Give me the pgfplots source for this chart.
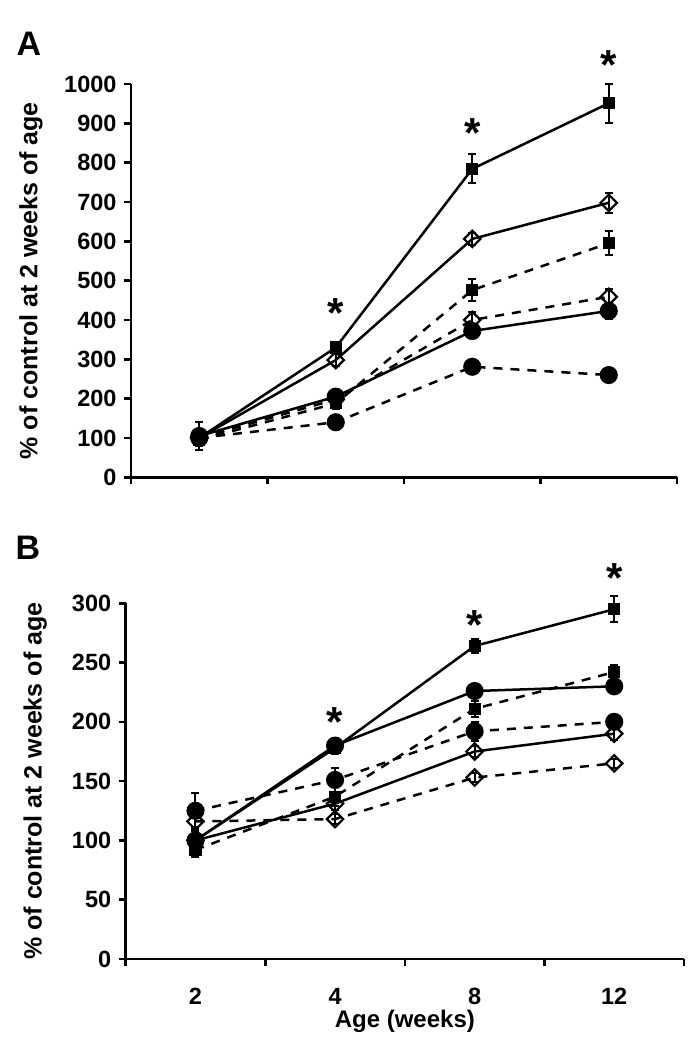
\documentclass[border=0pt]{standalone}
\usepackage{pgfplots}
\pgfplotsset{compat=1.18}
\usepackage{fontspec}
\setmainfont{Liberation Sans}

% data: x (category index), y, error
\pgfplotstableread{
x y e
0 100 15
1 330 15
2 784 37
3 951 50
}\AsolStar
\pgfplotstableread{
x y e
0 100 10
1 298 15
2 606 15
3 698 25
}\AsolDia
\pgfplotstableread{
x y e
0 95 15
1 188 15
2 476 27
3 595 30
}\AdashStar
\pgfplotstableread{
x y e
0 100 10
1 198 15
2 400 20
3 459 20
}\AdashDia
\pgfplotstableread{
x y e
0 105 35
1 205 15
2 372 15
3 423 20
}\AsolCirc
\pgfplotstableread{
x y e
0 100 10
1 140 10
2 281 10
3 260 10
}\AdashCirc

\pgfplotstableread{
x y e
0 100 8
1 178 5
2 264 6
3 295 11
}\BsolStar
\pgfplotstableread{
x y e
0 100 5
1 180 4
2 226 5
3 230 6
}\BsolCirc
\pgfplotstableread{
x y e
0 92 6
1 137 8
2 211 7
3 242 6
}\BdashStar
\pgfplotstableread{
x y e
0 125 15
1 151 10
2 192 8
3 200 6
}\BdashCirc
\pgfplotstableread{
x y e
0 100 5
1 131 5
2 175 5
3 190 5
}\BsolDia
\pgfplotstableread{
x y e
0 116 5
1 118 4
2 153 4
3 165 4
}\BdashDia

\tikzset{sigstar/.style={font=\fontsize{42bp}{42bp}\selectfont\bfseries, anchor=center}}
\pgfplotsset{
  panel/.style={
    scale only axis,
    axis x line=bottom, axis y line=left,
    axis line style={-, line width=2.8bp},
    xmin=-0.5, xmax=3.5, ymin=0,
    xtick={-0.5,0.5,1.5,2.5,3.5}, xticklabels={},
    tick align=outside, major tick length=7bp,
    tick style={line width=2.6bp, black},
    /pgf/number format/assume math mode=true,
    /pgf/number format/1000 sep={},
    yticklabel style={font=\fontsize{23.5bp}{25bp}\selectfont\bfseries, xshift=-4bp},
    ylabel style={font=\fontsize{25bp}{28bp}\selectfont\bfseries, anchor=center},
    clip=false,
    every axis plot/.append style={line width=2.5bp, black},
  },
  solidln/.style={solid},
  dashln/.style={dash pattern=on 9bp off 8bp},
  ebar/.style={error bars/.cd, y dir=both, y explicit,
    error bar style={line width=2bp, solid},
    error mark options={rotate=90, mark size=4bp, line width=2bp}},
  mstar/.style={mark=square*, mark options={solid, fill=black, mark size=4.8bp}},
  mdia/.style={mark=square, mark options={solid, fill=white, rotate=45, mark size=5.8bp, line width=2.2bp}},
  mcirc/.style={mark=*, mark options={solid, fill=black, mark size=7.8bp}},
}

\begin{document}
\begin{tikzpicture}
\useasboundingbox (0,0) rectangle (699bp,1050bp);
\node[font=\fontsize{34bp}{34bp}\selectfont\bfseries] at (29bp,1006bp) {A};
\node[font=\fontsize{34bp}{34bp}\selectfont\bfseries] at (28bp,502bp) {B};

\begin{axis}[panel,
  at={(131bp,572.7bp)}, anchor=south west,
  width=546bp, height=393.3bp,
  ymax=1000, ytick={0,100,...,1000},
  ylabel={\% of control at 2 weeks of age},
  ylabel style={at={(axis description cs:-0.183,0.5)}},
]
\addplot[dashln, mdia, ebar] table[x=x, y=y, y error=e] {\AdashDia};
\addplot[dashln, mstar, ebar] table[x=x, y=y, y error=e] {\AdashStar};
\addplot[dashln, mcirc, ebar] table[x=x, y=y, y error=e] {\AdashCirc};
\addplot[solidln, mcirc, ebar] table[x=x, y=y, y error=e] {\AsolCirc};
\addplot[solidln, mdia, ebar] table[x=x, y=y, y error=e] {\AsolDia};
\addplot[solidln, mstar, ebar] table[x=x, y=y, y error=e] {\AsolStar};
\node[sigstar] at (axis cs:1,418) {*};
\node[sigstar] at (axis cs:2,875) {*};
\node[sigstar] at (axis cs:3,1048) {*};
\end{axis}

\begin{axis}[panel,
  at={(125.7bp,91bp)}, anchor=south west,
  width=558.3bp, height=355.7bp,
  ymax=300, ytick={0,50,...,300},
  ylabel={\% of control at 2 weeks of age},
  ylabel style={at={(axis description cs:-0.162,0.5)}},
  extra x ticks={0,1,2,3}, extra x tick labels={2,4,8,12},
  extra x tick style={major tick length=0bp,
    tick label style={font=\fontsize{23.5bp}{25bp}\selectfont\bfseries, yshift=-26bp}},
  xlabel={Age (weeks)},
  xlabel style={font=\fontsize{24bp}{26bp}\selectfont\bfseries, at={(axis description cs:0.5,0)}, anchor=center, yshift=-62.7bp},
]
\addplot[dashln, mdia, ebar] table[x=x, y=y, y error=e] {\BdashDia};
\addplot[dashln, mstar, ebar] table[x=x, y=y, y error=e] {\BdashStar};
\addplot[dashln, mcirc, ebar] table[x=x, y=y, y error=e] {\BdashCirc};
\addplot[solidln, mdia, ebar] table[x=x, y=y, y error=e] {\BsolDia};
\addplot[solidln, mcirc, ebar] table[x=x, y=y, y error=e] {\BsolCirc};
\addplot[solidln, mstar, ebar] table[x=x, y=y, y error=e] {\BsolStar};
\node[sigstar] at (axis cs:1,200) {*};
\node[sigstar] at (axis cs:2,282) {*};
\node[sigstar] at (axis cs:3,321) {*};
\end{axis}
\end{tikzpicture}
\end{document}
